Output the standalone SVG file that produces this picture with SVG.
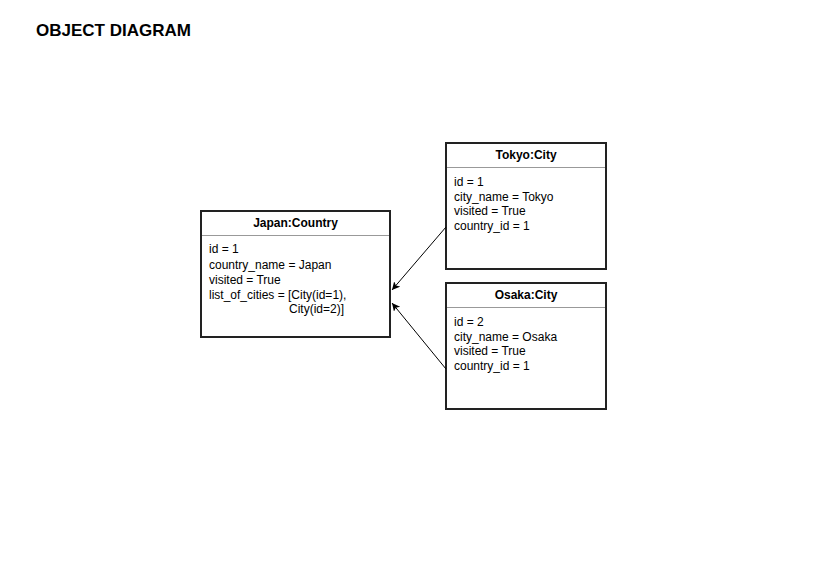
<svg xmlns="http://www.w3.org/2000/svg" width="827" height="583" viewBox="0 0 827 583">
<style>
.box{fill:#fff;stroke:#222;stroke-width:2}
.sep{stroke:#999;stroke-width:1}
.t{font-family:"Liberation Sans",Arial,sans-serif;font-size:12px;fill:#000}
.h{font-weight:bold;text-anchor:middle}
.title{font-family:"Liberation Sans",Arial,sans-serif;font-size:17px;font-weight:bold;fill:#000}
.edge{stroke:#000;stroke-width:1;fill:none;marker-end:url(#arr)}
</style>
<defs>
<marker id="arr" markerWidth="10" markerHeight="10" refX="8" refY="4" orient="auto" markerUnits="userSpaceOnUse">
<path d="M0,0 L8,4 L0,8 L2,4 Z" fill="#000"/>
</marker>
</defs>
<rect width="827" height="583" fill="#fff"/>
<text class="title" x="36" y="36">OBJECT DIAGRAM</text>
<g id="japan">
<rect class="box" x="201" y="211" width="189" height="126"/>
<line class="sep" x1="202" y1="235.5" x2="389" y2="235.5"/>
<text class="t h" x="295.5" y="227">Japan:Country</text>
<text class="t" x="209" y="253">id = 1</text>
<text class="t" x="209" y="269">country_name = Japan</text>
<text class="t" x="209" y="284">visited = True</text>
<text class="t" x="209" y="299">list_of_cities = [City(id=1),</text>
<text class="t" x="289" y="313">City(id=2)]</text>
</g>
<g id="tokyo">
<rect class="box" x="446" y="143" width="160" height="126"/>
<line class="sep" x1="447" y1="167.5" x2="605" y2="167.5"/>
<text class="t h" x="526" y="159">Tokyo:City</text>
<text class="t" x="454" y="186">id = 1</text>
<text class="t" x="454" y="201">city_name = Tokyo</text>
<text class="t" x="454" y="215">visited = True</text>
<text class="t" x="454" y="230">country_id = 1</text>
</g>
<g id="osaka">
<rect class="box" x="446" y="283" width="160" height="126"/>
<line class="sep" x1="447" y1="307.5" x2="605" y2="307.5"/>
<text class="t h" x="526" y="299">Osaka:City</text>
<text class="t" x="454" y="326">id = 2</text>
<text class="t" x="454" y="341">city_name = Osaka</text>
<text class="t" x="454" y="355">visited = True</text>
<text class="t" x="454" y="370">country_id = 1</text>
</g>
<g id="connectors">
<line class="edge" x1="446" y1="227" x2="392" y2="290"/>
<line class="edge" x1="446" y1="369" x2="392" y2="303"/>
</g>
</svg>
